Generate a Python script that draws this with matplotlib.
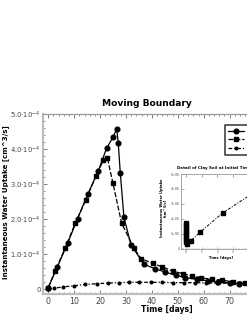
import matplotlib
matplotlib.use("Agg")
import matplotlib.pyplot as plt
from matplotlib.ticker import MultipleLocator, FixedLocator, FixedFormatter

# ---------------- data ----------------
sand_t = [0, 3.5, 7.5, 11.3, 15.2, 19.3, 22.5, 25.1, 26.4, 27.0, 27.8, 29.2, 31.9,
          37.0, 41.2, 45.2, 49.2, 52.9, 57.3, 61.5, 65.6, 70.2, 73.7, 78.0]
sand_v = [0.05e-4, 0.64e-4, 1.32e-4, 2.02e-4, 2.71e-4, 3.38e-4, 4.03e-4, 4.36e-4, 4.59e-4,
          4.19e-4, 3.32e-4, 2.06e-4, 1.27e-4,
          0.71e-4, 0.59e-4, 0.49e-4, 0.40e-4, 0.33e-4, 0.29e-4, 0.24e-4, 0.21e-4, 0.19e-4, 0.16e-4, 0.15e-4]

loam_t = [0, 2.6, 6.6, 10.4, 14.4, 18.4, 21.3, 22.8, 24.9, 28.3, 33.1, 35.8,
          40.3, 44.0, 48.0, 51.9, 55.4, 59.1, 63.1, 66.9, 71.4, 75.9, 80.0]
loam_v = [0.05e-4, 0.52e-4, 1.19e-4, 1.89e-4, 2.54e-4, 3.24e-4, 3.69e-4, 3.76e-4, 3.05e-4, 1.89e-4,
          1.17e-4, 0.88e-4, 0.74e-4, 0.64e-4, 0.52e-4, 0.45e-4, 0.38e-4, 0.32e-4, 0.29e-4,
          0.26e-4, 0.22e-4, 0.19e-4, 0.17e-4]

clay_t = [0, 2.2, 5.8, 9.9, 14.2, 18.7, 23.2, 27.4, 31.2, 35.2, 39.5, 43.8, 48.0,
          52.3, 56.6, 61.0, 65.3, 69.6, 74.0, 78.3]
clay_v = [0.0, 0.03e-4, 0.07e-4, 0.10e-4, 0.14e-4, 0.16e-4, 0.18e-4, 0.19e-4, 0.20e-4, 0.20e-4,
          0.20e-4, 0.20e-4, 0.19e-4, 0.19e-4, 0.19e-4, 0.18e-4, 0.18e-4, 0.17e-4, 0.17e-4, 0.17e-4]

series_labels = ["Sandy Soil", "Loamy Soil", "Clay Soil"]

# inset: clay soil, initial times
inset_t = [0.0, 0.005, 0.01, 0.015, 0.02, 0.025, 0.03, 0.035, 0.04, 0.05, 0.32, 0.91, 2.35, 4.6]
inset_v = [1.72e-6, 1.58e-6, 1.42e-6, 1.27e-6, 1.12e-6, 0.96e-6, 0.80e-6, 0.64e-6, 0.48e-6,
           0.33e-6, 0.54e-6, 1.10e-6, 2.40e-6, 3.95e-6]

ytick_vals = [0, 1e-4, 2e-4, 3e-4, 4e-4, 5e-4]
ytick_labels = ["0", r"$1.0{\cdot}10^{-4}$", r"$2.0{\cdot}10^{-4}$", r"$3.0{\cdot}10^{-4}$",
                r"$4.0{\cdot}10^{-4}$", r"$5.0{\cdot}10^{-4}$"]
xtick_vals = [0, 10, 20, 30, 40, 50, 60, 70, 80, 90]

inset_ytick_vals = [0, 1e-6, 2e-6, 3e-6, 4e-6, 5e-6]
inset_ytick_labels = ["0", "1e-06", "2e-06", "3e-06", "4e-06", "5e-06"]
inset_xtick_vals = [0, 1, 2, 3, 4]

# ---------------- figure ----------------
W, H = 247, 319
fig = plt.figure(figsize=(W / 100, H / 100), dpi=100)
fig.patch.set_facecolor("white")

ax_l, ax_r, ax_t, ax_b = 42.7, 291.0, 114.3, 294.0
ax = fig.add_axes([ax_l / W, 1 - ax_b / H, (ax_r - ax_l) / W, (ax_b - ax_t) / H])

spine_c = "#9a9a9a"
for s in ax.spines.values():
    s.set_color(spine_c)
    s.set_linewidth(0.9)
ax.spines["left"].set_color("#bdbdbd")
ax.spines["left"].set_linewidth(1.6)
ax.spines["bottom"].set_color("#bdbdbd")
ax.spines["bottom"].set_linewidth(1.6)

lw = 0.9
ax.plot(sand_t, sand_v, color="black", lw=lw, ls="-", marker="o", ms=3.4,
        label=series_labels[0], zorder=3)
ax.plot(loam_t, loam_v, color="black", lw=lw, ls=(0, (4, 1.5)), marker="s", ms=3.2,
        label=series_labels[1], zorder=3)
ax.plot(clay_t, clay_v, color="black", lw=lw, ls=(0, (3, 1.5, 1, 1.5)), marker="o", ms=1.9,
        label=series_labels[2], zorder=3)

ax.set_xlim(-2.16, 93.7)
ax.set_ylim(-0.134e-4, 5e-4)

ax.yaxis.set_major_locator(FixedLocator(ytick_vals))
ax.yaxis.set_major_formatter(FixedFormatter(ytick_labels))
ax.yaxis.set_minor_locator(MultipleLocator(0.2e-4))
ax.xaxis.set_major_locator(FixedLocator(xtick_vals))
ax.xaxis.set_minor_locator(MultipleLocator(2))

ax.tick_params(which="both", direction="in", top=True, right=True, color="#666666",
               labelcolor="#444444")
ax.tick_params(which="major", length=3, width=0.6)
ax.tick_params(which="minor", length=1.6, width=0.5)
ax.tick_params(axis="x", labelsize=5.7, pad=2)
ax.tick_params(axis="y", labelsize=4.9, pad=1.5)

fig.text(146.5 / W, 1 - 103 / H, "Moving Boundary", ha="center", va="center",
         fontsize=6.6, fontweight="bold")
fig.text(167 / W, 1 - 309 / H, "Time [days]", ha="center", va="center",
         fontsize=5.6, fontweight="bold")
fig.text(5.5 / W, 1 - 202 / H, "Instantaneous Water Uptake [cm^3/s]", ha="center", va="center",
         rotation=90, fontsize=5.1, fontweight="bold")

leg = fig.legend(loc="upper left", bbox_to_anchor=(225 / W, 1 - 125 / H), fontsize=5,
                 frameon=True, fancybox=False, handlelength=2.2, borderpad=0.5,
                 labelspacing=0.35, handletextpad=0.6, borderaxespad=0)
leg.get_frame().set_edgecolor("black")
leg.get_frame().set_linewidth(1.1)

# ---------------- inset ----------------
il, ir, it, ib = 181.0, 255.0, 174.0, 248.7
axi = fig.add_axes([il / W, 1 - ib / H, (ir - il) / W, (ib - it) / H])
axi.set_facecolor("white")
axi.plot(inset_t, inset_v, color="black", lw=0.7, ls=(0, (3, 1.5, 1, 1.5)), marker="s",
         ms=2.6, zorder=3)
axi.set_xlim(-0.30, 4.39)
axi.set_ylim(0, 5e-6)
axi.yaxis.set_major_locator(FixedLocator(inset_ytick_vals))
axi.yaxis.set_major_formatter(FixedFormatter(inset_ytick_labels))
axi.xaxis.set_major_locator(FixedLocator(inset_xtick_vals))
axi.xaxis.set_minor_locator(MultipleLocator(0.2))
axi.yaxis.set_minor_locator(MultipleLocator(0.2e-6))
for s in axi.spines.values():
    s.set_color("#9a9a9a")
    s.set_linewidth(0.6)
axi.tick_params(which="both", direction="in", top=True, right=True, color="#666666",
                labelcolor="#444444", pad=1, labelsize=2.2)
axi.tick_params(which="major", length=1.8, width=0.4)
axi.tick_params(which="minor", length=0.9, width=0.3)

fig.text(214 / W, 1 - 168 / H, "Detail of Clay Soil at Initial Time", ha="center",
         va="center", fontsize=2.9, fontweight="bold")
fig.text(221 / W, 1 - 258.5 / H, "Time [days]", ha="center", va="center",
         fontsize=2.6, fontweight="bold")
fig.text(164 / W, 1 - 208 / H, "Instantaneous Water Uptake\n[cm^3/s]", ha="center",
         va="center", rotation=90, fontsize=2.6, fontweight="bold", linespacing=1.1)

fig.savefig("out.png", dpi=100)
